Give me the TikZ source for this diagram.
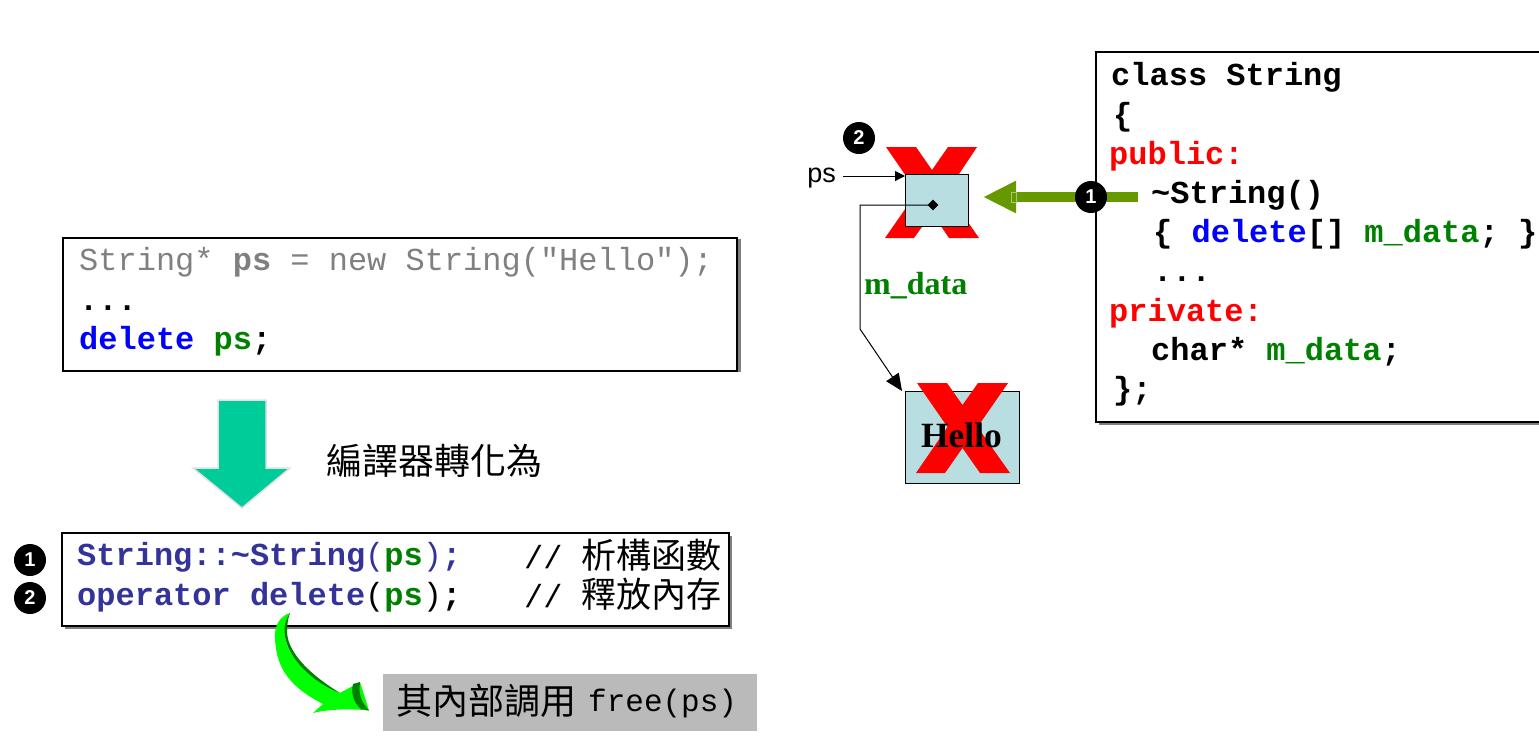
\documentclass[tikz,border=0pt]{standalone}
\usepackage{fontspec}
\setmainfont{Liberation Sans}
\newfontfamily\codefont{Liberation Mono}
\newfontfamily\serifbold{Liberation Serif}
\newfontfamily\cjk{Noto Sans CJK TC}
\usepackage{tikz}
\usetikzlibrary{arrows.meta,calc,positioning,shapes.geometric,shadows}
\definecolor{codegreen}{RGB}{0,128,0}
\definecolor{codeblue}{RGB}{0,0,255}
\definecolor{callblue}{RGB}{51,51,153}
\definecolor{fadedgray}{RGB}{128,128,128}
\definecolor{cellblue}{RGB}{184,222,226}
\definecolor{tealarrow}{RGB}{0,204,153}
\definecolor{olivearrow}{RGB}{102,153,0}
\definecolor{brightgreen}{RGB}{0,255,0}
\definecolor{darkgreen}{RGB}{0,128,0}
\tikzset{
  codebox/.style={draw=black,line width=2pt,fill=white,anchor=north west,outer sep=0pt,inner sep=0pt},
  codeshadow/.style 2 args={drop shadow={shadow xshift=#1,shadow yshift=#2,fill=black!50,opacity=1}},
  codetext/.style={anchor=north west,inner sep=0pt,align=left,font=\codefont\bfseries\fontsize{32}{39.2}\selectfont},
  cell/.style={draw=black,line width=1pt,fill=cellblue,anchor=north west,outer sep=0pt,inner sep=0pt},
  badge/.style={circle,fill=black,text=white,inner sep=0pt,minimum size=32pt,font=\bfseries\fontsize{20}{20}\selectfont},
  cjklabel/.style={inner sep=0pt,font=\cjk\fontsize{36}{36}\selectfont},
}
\newcommand{\plainmono}[1]{{\mdseries #1}}
\begin{document}
\begin{tikzpicture}[x=1pt,y=-1pt,>=Latex]
  \useasboundingbox (0,0) rectangle (1539,740);
  \frenchspacing
  % left side, source
  \node[codebox,codeshadow={4pt}{-1pt},minimum width=674pt,minimum height=133pt] (source) at (63,238) {};
  \node[codetext] (sourcetext) at (79,247.5) {%
    \textcolor{fadedgray}{\mdseries String* \textbf{ps} = new String("Hello");}\\
    ...\\
    \textcolor{codeblue}{delete} \textcolor{codegreen}{ps};};
  \fill[tealarrow,draw=black!12,line width=1.5pt] (218,400)--(266,400)--(266,468)--(290,468)--(242,508)--(193,468)--(218,468)--cycle;
  \node[cjklabel,anchor=west] (compiled) at (326,461) {編譯器轉化為};
  % left side, generated calls
  \node[codebox,codeshadow={3pt}{-3pt},minimum width=667pt,minimum height=93pt] (calls) at (62,533) {};
  \node[codetext] (callstext) at (77,542.5) {%
    \textcolor{callblue}{String::\textasciitilde String\plainmono{(}}\textcolor{codegreen}{ps}\textcolor{callblue}{\plainmono{)};}\\
    \textcolor{callblue}{operator delete}\plainmono{(}\textcolor{codegreen}{ps}\plainmono{)};};
  \node[inner sep=0pt,anchor=base east,font=\codefont\fontsize{32}{32}\selectfont] (dtorcomment) at (722,568) {// {\cjk\fontsize{35}{35}\selectfont 析構函數}};
  \node[inner sep=0pt,anchor=base east,font=\codefont\fontsize{32}{32}\selectfont] (freecomment) at (722,607) {// {\cjk\fontsize{35}{35}\selectfont 釋放內存}};
  \node[badge] (stepa) at (30,560) {1};
  \node[badge] (stepb) at (30,598) {2};
  \node[anchor=north west,fill=black!27,minimum width=374pt,minimum height=57pt,inner sep=0pt] (freecall) at (383,674) {};
  \node[cjklabel,anchor=west] (freetext) at (396,701) {其內部調用};
  \node[inner sep=0pt,anchor=west,font=\codefont\fontsize{31}{31}\selectfont] (freecode) at (588,703) {free(ps)};
  % curved arrow
  \fill[brightgreen] (290,613) .. controls (280,616) and (274,626) .. (275,638)
    .. controls (276,670) and (292,688) .. (323,704)--(313,713) .. controls (325,710) and (345,708) .. (369,710.5)
    --(360,682)--(340,693) .. controls (312,680) and (284,655) .. (285,633) .. controls (285,625) and (287,618) .. (290,613)--cycle;
  \fill[darkgreen] (290,613) .. controls (284,622) and (284,630) .. (285,636) .. controls (288,658) and (312,682) .. (340,693)
    .. controls (314,677) and (288,655) .. (287,632) .. controls (287,625) and (288,618) .. (290,613)--cycle;
  \fill[darkgreen] (353,684)--(360,682) .. controls (358,695) and (362,703) .. (369,710.5)--(361,709) .. controls (353,702) and (351,693) .. (353,684)--cycle;
  % right side, crosses behind the cells
  \fill[red] (886,147)--(916,147)--(932,170)--(948,147)--(977,147)--(947,192)--(979,238)--(949,238)--(932,213)--(914,238)--(885,238)--(917,192)--cycle;
  \node[cell,minimum width=63pt,minimum height=52pt] (pointer) at (905,174) {};
  \node[cell,minimum width=114pt,minimum height=92pt] (hello) at (905,391) {};
  \fill[red] (917,383)--(947,383)--(962.5,405)--(978,383)--(1008,383)--(977.5,427)--(1010,473)--(980,473)--(962.5,448)--(945,473)--(916,473)--(947.5,427)--cycle;
  \node[inner sep=0pt,font=\serifbold\bfseries\fontsize{35.5}{36}\selectfont] (hellotext) at (961.5,435) {Hello};
  \node[inner sep=0pt,anchor=east,font=\fontsize{27}{27}\selectfont] (pslabel) at (836,178) {ps};
  \coordinate (pstip) at (905,176);
  \draw[-{Triangle[length=10pt,width=10pt]},line width=1pt] ([xshift=7pt]pslabel.east |- pstip) -- (pstip);
  \node[diamond,fill=black,inner sep=0pt,minimum size=11pt] (dot) at (933,205) {};
  \coordinate (bendtop) at (860,205);
  \coordinate (bendlow) at (860,329);
  \draw[-{Triangle[length=17pt,width=15pt]},line width=1pt] (dot.center)--(bendtop)--(bendlow)--([xshift=-3pt]hello.north west);
  \node[inner sep=0pt,anchor=west,text=codegreen,font=\serifbold\bfseries\fontsize{32}{32}\selectfont] (mdata) at (864,286) {m\_data};
  \node[badge] (stepbtop) at (859,138) {2};
  % right side, class
  \node[codebox,codeshadow={3pt}{-3pt},minimum width=449pt,minimum height=370pt] (classbox) at (1096,52) {};
  \node[codetext] (classtext) at (1111,62.5) {%
    class String\\
    \hspace{2pt}\{\\
    \hspace{-2pt}\textcolor{red}{public:}\\
    \hspace{40pt}\textasciitilde String()\\
    \hspace{42pt}\{ \textcolor{codeblue}{delete}[] \textcolor{codegreen}{m\_data}; \}\\
    \hspace{42pt}...\\
    \hspace{-2pt}\textcolor{red}{private:}\\
    \hspace{40pt}char* \textcolor{codegreen}{m\_data};\\
    \hspace{2pt}\};};
  % olive arrow into the pointer cell
  \coordinate (dtorline) at (1138,197);
  \draw[olivearrow,line width=10pt,-{Triangle[length=33pt,width=30pt]}] (dtorline) -- ([xshift=15pt]pointer.east |- dtorline);
  \draw[olivearrow!55!white,line width=0.8pt] (1011,192) rectangle (1016,202);
  \node[badge] (stepatop) at (1091,197) {1};
\end{tikzpicture}
\end{document}
